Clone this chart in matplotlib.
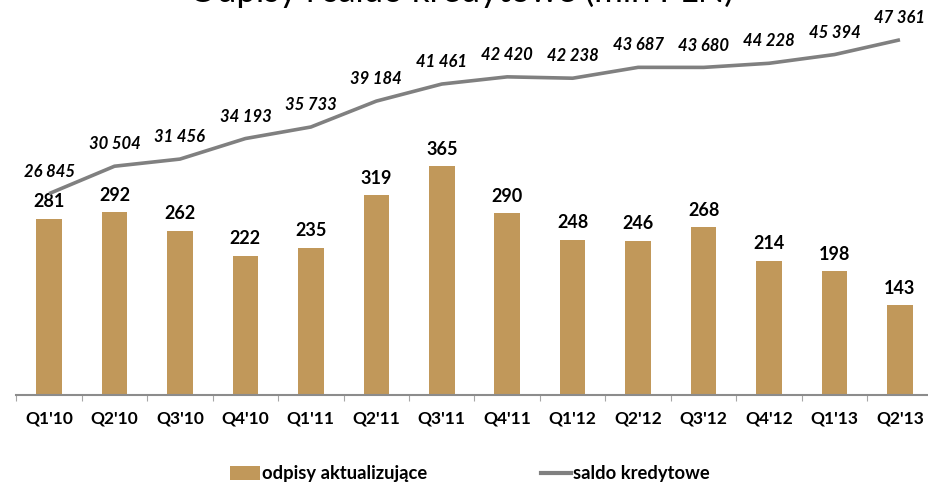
import matplotlib
matplotlib.use("Agg")
import matplotlib.pyplot as plt
from matplotlib.patches import Patch
from matplotlib.lines import Line2D

categories = ["Q1'10", "Q2'10", "Q3'10", "Q4'10", "Q1'11", "Q2'11", "Q3'11",
              "Q4'11", "Q1'12", "Q2'12", "Q3'12", "Q4'12", "Q1'13", "Q2'13"]
odpisy = [281, 292, 262, 222, 235, 319, 365, 290, 248, 246, 268, 214, 198, 143]
saldo = [26845, 30504, 31456, 34193, 35733, 39184, 41461, 42420, 42238,
         43687, 43680, 44228, 45394, 47361]

BAR_COLOR = "#C1985A"
LINE_COLOR = "#808080"
FONT = "Lato"

W, H = 929, 483
fig = plt.figure(figsize=(W / 100, H / 100), dpi=100)

left_px, right_px = 16.3, 932.7
bottom_px, top_px = 395, 30
ax = fig.add_axes([left_px / W, 1 - bottom_px / H,
                   (right_px - left_px) / W, (bottom_px - top_px) / H])
ax2 = ax.twinx()

x = list(range(len(categories)))
ax.bar(x, odpisy, width=0.39, color=BAR_COLOR, zorder=2)
ax2.plot(x, saldo, color=LINE_COLOR, lw=2.6, solid_capstyle="butt", zorder=3)

h_px = bottom_px - top_px
ax.set_ylim(0, h_px / 0.627)
ax2.set_ylim(0, h_px / 0.0075)
ax.set_xlim(-0.5, len(categories) - 0.5)

for a in (ax, ax2):
    for s in ("top", "right", "left"):
        a.spines[s].set_visible(False)
    a.set_yticks([])
ax2.spines["bottom"].set_visible(False)
ax.spines["bottom"].set_color("#8C8C8C")
ax.spines["bottom"].set_linewidth(1.5)

ax.set_xticks(x)
ax.set_xticklabels(categories, fontfamily=FONT, fontweight="bold", fontsize=12.5)
ax.tick_params(axis="x", which="major", length=0, pad=11)
ax.set_xticks([i - 0.5 for i in range(len(categories) + 1)], minor=True)
ax.tick_params(axis="x", which="minor", length=4, color="#A6A6A6", width=0.8)

for xi, v in zip(x, odpisy):
    ax.annotate(str(v), (xi, v), xytext=(0, 6), textcoords="offset points",
                ha="center", va="bottom", fontfamily=FONT, fontweight="bold",
                fontsize=13, color="black")

for xi, v in zip(x, saldo):
    label = f"{v:,}".replace(",", " ")
    ax2.annotate(label, (xi, v), xytext=(0, 10), textcoords="offset points",
                 ha="center", va="bottom", fontfamily=FONT, fontweight="bold",
                 fontstyle="italic", fontsize=12, color="black")

fig.text(0.497, 1 - 2 / H, "Odpisy i saldo kredytowe (mln PLN)",
         ha="center", va="baseline", fontfamily=FONT, fontsize=25, color="black")

handles = [Patch(facecolor=BAR_COLOR, edgecolor="none"),
           Line2D([], [], color=LINE_COLOR, lw=3)]
fig.legend(handles, ["odpisy aktualizujące", "saldo kredytowe"],
           loc="center", bbox_to_anchor=(469.5 / W, 1 - 474 / H), ncol=2,
           frameon=False, prop={"family": FONT, "weight": "bold", "size": 13.2},
           handlelength=1.65, handleheight=0.75, handletextpad=0.1,
           columnspacing=6.2, borderaxespad=0)

fig.savefig("out.png", dpi=100)
